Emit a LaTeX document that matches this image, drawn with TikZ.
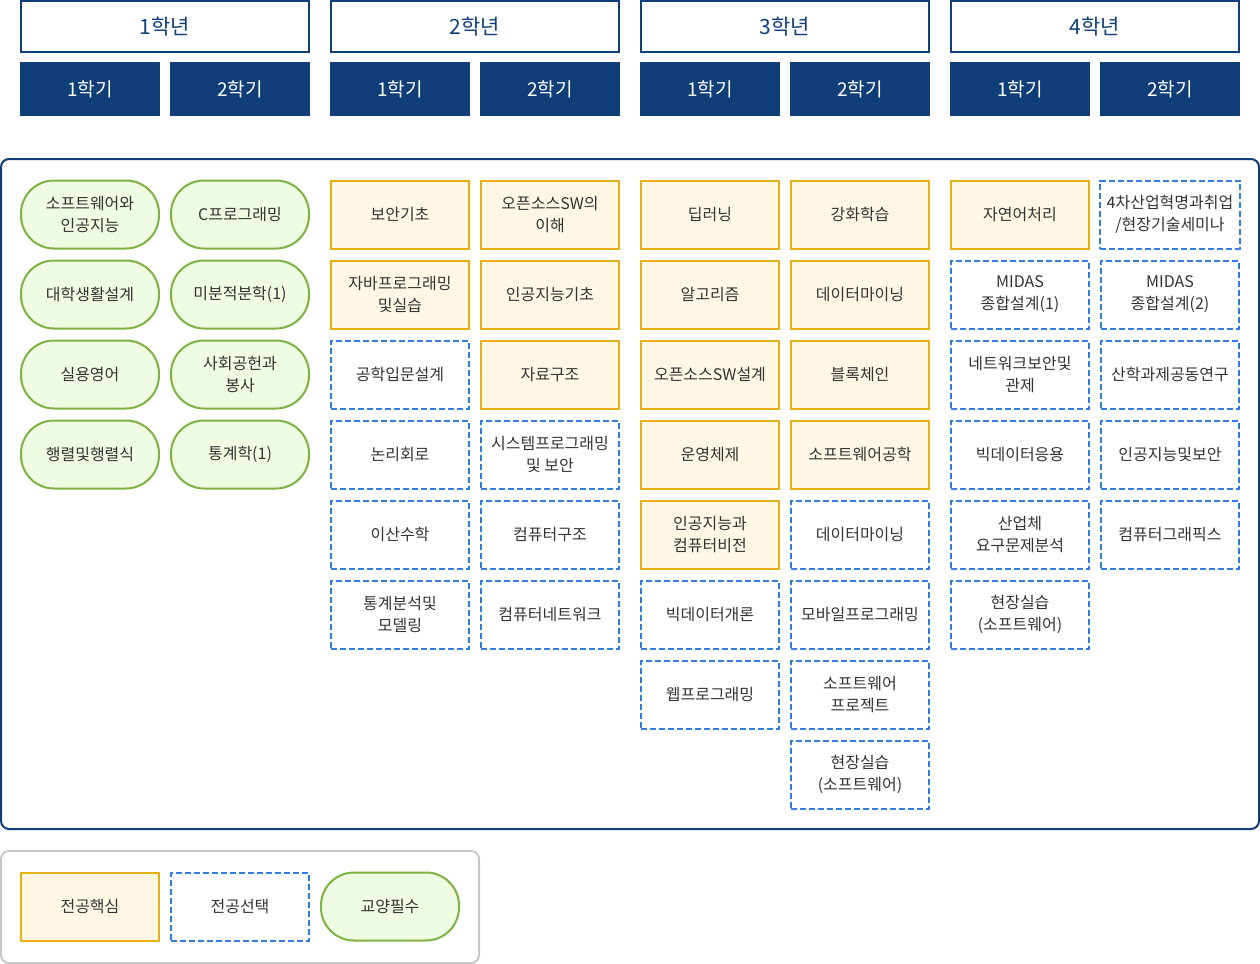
\documentclass[tikz,border=0pt]{standalone}
\usepackage{fontspec}
\setmainfont{Noto Sans CJK KR}
\definecolor{navy}{HTML}{0F3E78}
\definecolor{coreline}{HTML}{E6B012}
\definecolor{corefill}{HTML}{FDF7E4}
\definecolor{electline}{HTML}{2F7DE1}
\definecolor{genline}{HTML}{7CB342}
\definecolor{genfill}{HTML}{EFFCE2}
\definecolor{txt}{HTML}{333333}
\tikzset{
  year/.style={draw=navy, line width=1.2pt, minimum width=144pt, minimum height=25.5pt, text=navy, font=\fontsize{10.5}{12}\selectfont},
  sem/.style={fill=navy, minimum width=70pt, minimum height=27pt, text=white, font=\fontsize{9.5}{11}\selectfont},
  course/.style={minimum width=69pt, minimum height=34pt, align=center, text=txt, font=\fontsize{8}{11}\selectfont, line width=1pt},
  core/.style={course, draw=coreline, fill=corefill},
  elect/.style={course, draw=electline, dash pattern=on 3pt off 1.5pt},
  gen/.style={course, draw=genline, fill=genfill, rounded corners=16.5pt},
}
\begin{document}
\begin{tikzpicture}[x=0.5pt, y=-0.5pt]
\useasboundingbox (0,0) rectangle (1260,964);
% headers
\node[year] (y1) at (165,26.5) {1학년};
\node[year] (y2) at (475,26.5) {2학년};
\node[year] (y3) at (785,26.5) {3학년};
\node[year] (y4) at (1095,26.5) {4학년};
\node[sem] (s11) at (90,89) {1학기};
\node[sem] (s12) at (240,89) {2학기};
\node[sem] (s21) at (400,89) {1학기};
\node[sem] (s22) at (550,89) {2학기};
\node[sem] (s31) at (710,89) {1학기};
\node[sem] (s32) at (860,89) {2학기};
\node[sem] (s41) at (1020,89) {1학기};
\node[sem] (s42) at (1170,89) {2학기};
% frame
\draw[navy, line width=1pt, rounded corners=4pt] (1,159) rectangle (1259,829);
% 1st year
\node[gen] (a1) at (90,214.5) {소프트웨어와\\인공지능};
\node[gen] (a2) at (90,294.5) {대학생활설계};
\node[gen] (a3) at (90,374.5) {실용영어};
\node[gen] (a4) at (90,454.5) {행렬및행렬식};
\node[gen] (b1) at (240,214.5) {C프로그래밍};
\node[gen] (b2) at (240,294.5) {미분적분학(1)};
\node[gen] (b3) at (240,374.5) {사회공헌과\\봉사};
\node[gen] (b4) at (240,454.5) {통계학(1)};
% 2nd year
\node[core] (c1) at (400,214.5) {보안기초};
\node[core] (c2) at (400,294.5) {자바프로그래밍\\및실습};
\node[elect] (c3) at (400,374.5) {공학입문설계};
\node[elect] (c4) at (400,454.5) {논리회로};
\node[elect] (c5) at (400,534.5) {이산수학};
\node[elect] (c6) at (400,614.5) {통계분석및\\모델링};
\node[core] (d1) at (550,214.5) {오픈소스SW의\\이해};
\node[core] (d2) at (550,294.5) {인공지능기초};
\node[core] (d3) at (550,374.5) {자료구조};
\node[elect] (d4) at (550,454.5) {시스템프로그래밍\\및 보안};
\node[elect] (d5) at (550,534.5) {컴퓨터구조};
\node[elect] (d6) at (550,614.5) {컴퓨터네트워크};
% 3rd year
\node[core] (e1) at (710,214.5) {딥러닝};
\node[core] (e2) at (710,294.5) {알고리즘};
\node[core] (e3) at (710,374.5) {오픈소스SW설계};
\node[core] (e4) at (710,454.5) {운영체제};
\node[core] (e5) at (710,534.5) {인공지능과\\컴퓨터비전};
\node[elect] (e6) at (710,614.5) {빅데이터개론};
\node[elect] (e7) at (710,694.5) {웹프로그래밍};
\node[core] (f1) at (860,214.5) {강화학습};
\node[core] (f2) at (860,294.5) {데이터마이닝};
\node[core] (f3) at (860,374.5) {블록체인};
\node[core] (f4) at (860,454.5) {소프트웨어공학};
\node[elect] (f5) at (860,534.5) {데이터마이닝};
\node[elect] (f6) at (860,614.5) {모바일프로그래밍};
\node[elect] (f7) at (860,694.5) {소프트웨어\\프로젝트};
\node[elect] (f8) at (860,774.5) {현장실습\\(소프트웨어)};
% 4th year
\node[core] (g1) at (1020,214.5) {자연어처리};
\node[elect] (g2) at (1020,294.5) {MIDAS\\종합설계(1)};
\node[elect] (g3) at (1020,374.5) {네트워크보안및\\관제};
\node[elect] (g4) at (1020,454.5) {빅데이터응용};
\node[elect] (g5) at (1020,534.5) {산업체\\요구문제분석};
\node[elect] (g6) at (1020,614.5) {현장실습\\(소프트웨어)};
\node[elect] (h1) at (1170,214.5) {4차산업혁명과취업\\/현장기술세미나};
\node[elect] (h2) at (1170,294.5) {MIDAS\\종합설계(2)};
\node[elect] (h3) at (1170,374.5) {산학과제공동연구};
\node[elect] (h4) at (1170,454.5) {인공지능및보안};
\node[elect] (h5) at (1170,534.5) {컴퓨터그래픽스};
% legend
\draw[black!22, line width=1pt, rounded corners=4pt] (1,851) rectangle (479,963);
\node[core] (l1) at (90,906.5) {전공핵심};
\node[elect] (l2) at (240,906.5) {전공선택};
\node[gen] (l3) at (390,906.5) {교양필수};
\end{tikzpicture}
\end{document}
